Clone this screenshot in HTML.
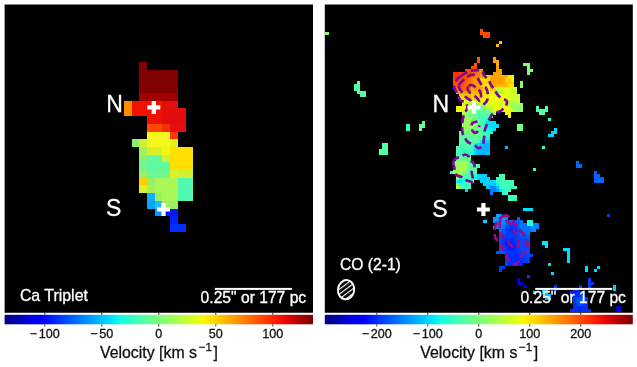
<!DOCTYPE html>
<html lang="en">
<head>
<meta charset="utf-8">
<title>Velocity maps: Ca Triplet and CO (2-1)</title>
<style>
html,body{margin:0;padding:0;background:#fff;}
body{width:637px;height:367px;overflow:hidden;font-family:"Liberation Sans",Arial,Helvetica,sans-serif;}
svg{display:block;}
text{font-family:"Liberation Sans",Arial,Helvetica,sans-serif;}
.w{fill:#fff;}
.lab{font-size:23px;fill:#fff;stroke:#fff;stroke-width:0.3px;}
.ann{font-size:15.9px;fill:#fff;stroke:#fff;stroke-width:0.3px;}
.sc{font-size:15.65px;}
.tk{font-size:12.6px;fill:#111;stroke:#111;stroke-width:0.3px;}
.ax{font-size:15.9px;fill:#111;stroke:#111;stroke-width:0.3px;}
.sup{font-size:11.6px;}
</style>
</head>
<body>
<svg width="637" height="367" viewBox="0 0 637 367">
<defs>
<linearGradient id="jet" x1="0" y1="0" x2="1" y2="0"><stop offset="0" stop-color="#000080"/><stop offset="0.025" stop-color="#00009c"/><stop offset="0.05" stop-color="#0000b9"/><stop offset="0.075" stop-color="#0000d6"/><stop offset="0.1" stop-color="#0000f3"/><stop offset="0.125" stop-color="#0000ff"/><stop offset="0.15" stop-color="#0019ff"/><stop offset="0.175" stop-color="#0033ff"/><stop offset="0.2" stop-color="#004dff"/><stop offset="0.225" stop-color="#0066ff"/><stop offset="0.25" stop-color="#0080ff"/><stop offset="0.275" stop-color="#0099ff"/><stop offset="0.3" stop-color="#00b2ff"/><stop offset="0.325" stop-color="#00ccff"/><stop offset="0.35" stop-color="#00e5f7"/><stop offset="0.375" stop-color="#15ffe2"/><stop offset="0.4" stop-color="#29ffce"/><stop offset="0.425" stop-color="#3effb9"/><stop offset="0.45" stop-color="#52ffa5"/><stop offset="0.475" stop-color="#67ff90"/><stop offset="0.5" stop-color="#7bff7b"/><stop offset="0.525" stop-color="#90ff67"/><stop offset="0.55" stop-color="#a5ff52"/><stop offset="0.575" stop-color="#b9ff3e"/><stop offset="0.6" stop-color="#ceff29"/><stop offset="0.625" stop-color="#e2ff15"/><stop offset="0.65" stop-color="#f7f600"/><stop offset="0.675" stop-color="#ffde00"/><stop offset="0.7" stop-color="#ffc600"/><stop offset="0.725" stop-color="#ffaf00"/><stop offset="0.75" stop-color="#ff9700"/><stop offset="0.775" stop-color="#ff8000"/><stop offset="0.8" stop-color="#ff6800"/><stop offset="0.825" stop-color="#ff5000"/><stop offset="0.85" stop-color="#ff3900"/><stop offset="0.875" stop-color="#ff2100"/><stop offset="0.9" stop-color="#f30900"/><stop offset="0.925" stop-color="#d60000"/><stop offset="0.95" stop-color="#b90000"/><stop offset="0.975" stop-color="#9c0000"/><stop offset="1" stop-color="#800000"/></linearGradient>
<pattern id="hatch" width="3.9" height="3.9" patternUnits="userSpaceOnUse" patternTransform="rotate(-45)"><rect x="0" y="0" width="3.9" height="1.15" fill="#fff"/></pattern>
<clipPath id="cr"><rect x="324.8" y="4.5" width="308" height="308.25"/></clipPath>
</defs>
<rect width="637" height="367" fill="#fff"/>
<!-- left panel -->
<rect x="4.6" y="4.5" width="308.4" height="308.25" fill="#000"/>
<g shape-rendering="crispEdges">
<rect x="139.25" y="62.25" width="7.75" height="7.75" fill="#800000"/>
<rect x="139.25" y="69.95" width="38.55" height="23.15" fill="#800000"/>
<rect x="139.25" y="93.05" width="38.55" height="7.75" fill="#a20000"/>
<rect x="123.85" y="100.75" width="7.75" height="15.45" fill="#ff8c00"/>
<rect x="131.55" y="100.75" width="30.85" height="7.75" fill="#f01200"/>
<rect x="162.35" y="100.75" width="7.75" height="7.75" fill="#e80c00"/>
<rect x="170.05" y="100.75" width="7.75" height="7.75" fill="#e01010"/>
<rect x="131.55" y="108.45" width="15.45" height="7.75" fill="#f01200"/>
<rect x="146.95" y="108.45" width="15.45" height="7.75" fill="#ee1000"/>
<rect x="162.35" y="108.45" width="23.15" height="7.75" fill="#e20c0c"/>
<rect x="146.95" y="116.15" width="15.45" height="7.75" fill="#ee1000"/>
<rect x="162.35" y="116.15" width="23.15" height="7.75" fill="#e20c0c"/>
<rect x="146.95" y="123.85" width="15.45" height="7.75" fill="#ff4800"/>
<rect x="162.35" y="123.85" width="7.75" height="7.75" fill="#f23000"/>
<rect x="170.05" y="123.85" width="15.45" height="7.75" fill="#e41010"/>
<rect x="146.95" y="131.55" width="23.15" height="7.75" fill="#f4f81c"/>
<rect x="170.05" y="131.55" width="7.75" height="7.75" fill="#ff3800"/>
<rect x="131.55" y="139.25" width="7.75" height="7.75" fill="#88f070"/>
<rect x="139.25" y="139.25" width="7.75" height="7.75" fill="#d0f030"/>
<rect x="146.95" y="139.25" width="23.15" height="7.75" fill="#f4f81c"/>
<rect x="170.05" y="139.25" width="7.75" height="7.75" fill="#e8f018"/>
<rect x="139.25" y="146.95" width="7.75" height="7.75" fill="#a0f060"/>
<rect x="146.95" y="146.95" width="15.45" height="7.75" fill="#d8f028"/>
<rect x="162.35" y="146.95" width="7.75" height="7.75" fill="#f0f818"/>
<rect x="170.05" y="146.95" width="23.15" height="7.75" fill="#ffe000"/>
<rect x="139.25" y="154.65" width="7.75" height="7.75" fill="#90f070"/>
<rect x="146.95" y="154.65" width="15.45" height="7.75" fill="#60f8a0"/>
<rect x="162.35" y="154.65" width="7.75" height="7.75" fill="#d0f030"/>
<rect x="170.05" y="154.65" width="23.15" height="7.75" fill="#ffe000"/>
<rect x="139.25" y="162.35" width="7.75" height="7.75" fill="#68f898"/>
<rect x="146.95" y="162.35" width="23.15" height="7.75" fill="#60f8a0"/>
<rect x="170.05" y="162.35" width="23.15" height="7.75" fill="#ffe000"/>
<rect x="139.25" y="170.05" width="7.75" height="7.75" fill="#98f068"/>
<rect x="146.95" y="170.05" width="7.75" height="7.75" fill="#68f898"/>
<rect x="154.65" y="170.05" width="15.45" height="7.75" fill="#70f890"/>
<rect x="170.05" y="170.05" width="7.75" height="7.75" fill="#e0f020"/>
<rect x="177.75" y="170.05" width="15.45" height="7.75" fill="#d0f030"/>
<rect x="139.25" y="177.75" width="7.75" height="7.75" fill="#ffd000"/>
<rect x="146.95" y="177.75" width="7.75" height="7.75" fill="#98f068"/>
<rect x="154.65" y="177.75" width="23.15" height="7.75" fill="#a8f858"/>
<rect x="177.75" y="177.75" width="15.45" height="7.75" fill="#50f8b0"/>
<rect x="139.25" y="185.45" width="7.75" height="7.75" fill="#d8f028"/>
<rect x="146.95" y="185.45" width="7.75" height="7.75" fill="#a8f058"/>
<rect x="154.65" y="185.45" width="23.15" height="7.75" fill="#a8f858"/>
<rect x="177.75" y="185.45" width="15.45" height="7.75" fill="#50f8b0"/>
<rect x="146.95" y="193.15" width="7.75" height="7.75" fill="#10b0ff"/>
<rect x="154.65" y="193.15" width="7.75" height="7.75" fill="#98f068"/>
<rect x="162.35" y="193.15" width="15.45" height="7.75" fill="#a8f858"/>
<rect x="177.75" y="193.15" width="15.45" height="7.75" fill="#50f8b0"/>
<rect x="146.95" y="200.85" width="7.75" height="7.75" fill="#00a8ff"/>
<rect x="154.65" y="200.85" width="7.75" height="7.75" fill="#20c0ff"/>
<rect x="162.35" y="200.85" width="7.75" height="7.75" fill="#a0f060"/>
<rect x="170.05" y="200.85" width="7.75" height="7.75" fill="#98f068"/>
<rect x="154.65" y="208.55" width="7.75" height="7.75" fill="#0098ff"/>
<rect x="162.35" y="208.55" width="15.45" height="7.75" fill="#0018f4"/>
<rect x="170.05" y="216.25" width="7.75" height="7.75" fill="#0020ff"/>
<rect x="170.05" y="223.95" width="15.45" height="7.75" fill="#0030ff"/>
</g>
<path d="M151.7 100.9h4.2v4.4h4.4v4.2h-4.4v4.4h-4.2v-4.4h-4.4v-4.2h4.4z" fill="#fff"/><path d="M161.4 203h4.2v4.4h4.4v4.2h-4.4v4.4h-4.2v-4.4h-4.4v-4.2h4.4z" fill="#fff"/>
<text x="106.2" y="111.7" class="lab">N</text>
<text x="106.0" y="216.3" class="lab">S</text>
<text x="19.9" y="301.2" class="ann">Ca Triplet</text>
<rect x="214.9" y="287.9" width="77.1" height="2" fill="#fff"/>
<text x="200.6" y="303.1" class="ann sc">0.25" or 177 pc</text>
<!-- right panel -->
<rect x="324.8" y="4.5" width="308" height="308.25" fill="#000"/>
<g shape-rendering="crispEdges" clip-path="url(#cr)">
<rect x="480.3" y="28.94" width="3.13" height="3.13" fill="#ff4a00"/>
<rect x="324.8" y="32.02" width="4.63" height="3.13" fill="#89ff6e"/>
<rect x="480.3" y="32.02" width="9.29" height="3.13" fill="#ff4a00"/>
<rect x="483.38" y="35.1" width="6.21" height="3.13" fill="#ff4a00"/>
<rect x="498.78" y="41.26" width="3.13" height="3.13" fill="#ffc000"/>
<rect x="495.7" y="44.34" width="3.13" height="3.13" fill="#ffc000"/>
<rect x="477.22" y="56.66" width="3.13" height="3.13" fill="#ff5700"/>
<rect x="492.62" y="56.66" width="3.13" height="3.13" fill="#ffa200"/>
<rect x="477.22" y="59.74" width="3.13" height="3.13" fill="#ff5700"/>
<rect x="492.62" y="59.74" width="6.21" height="3.13" fill="#ffa200"/>
<rect x="474.14" y="62.82" width="3.13" height="3.13" fill="#ff5700"/>
<rect x="495.7" y="62.82" width="3.13" height="3.13" fill="#ffaf00"/>
<rect x="523.42" y="62.82" width="6.21" height="3.13" fill="#7bff7b"/>
<rect x="471.06" y="65.9" width="6.21" height="3.13" fill="#ff4a00"/>
<rect x="495.7" y="65.9" width="3.13" height="3.13" fill="#ffa200"/>
<rect x="526.5" y="65.9" width="3.13" height="3.13" fill="#7bff7b"/>
<rect x="464.9" y="68.98" width="9.29" height="3.13" fill="#ff4a00"/>
<rect x="474.14" y="68.98" width="3.13" height="3.13" fill="#ff6400"/>
<rect x="477.22" y="68.98" width="3.13" height="3.13" fill="#ff7d00"/>
<rect x="480.3" y="68.98" width="3.13" height="3.13" fill="#ff9600"/>
<rect x="495.7" y="68.98" width="6.21" height="3.13" fill="#ffa200"/>
<rect x="526.5" y="68.98" width="6.21" height="3.13" fill="#7bff7b"/>
<rect x="452.58" y="72.06" width="6.21" height="3.13" fill="#ff3100"/>
<rect x="458.74" y="72.06" width="9.29" height="3.13" fill="#ff3e00"/>
<rect x="467.98" y="72.06" width="3.13" height="3.13" fill="#ff4a00"/>
<rect x="471.06" y="72.06" width="6.21" height="3.13" fill="#ff6400"/>
<rect x="477.22" y="72.06" width="3.13" height="3.13" fill="#ff7d00"/>
<rect x="480.3" y="72.06" width="3.13" height="3.13" fill="#ff9600"/>
<rect x="492.62" y="72.06" width="9.29" height="3.13" fill="#ffa200"/>
<rect x="526.5" y="72.06" width="3.13" height="3.13" fill="#7bff7b"/>
<rect x="452.58" y="75.14" width="6.21" height="3.13" fill="#ff3100"/>
<rect x="458.74" y="75.14" width="9.29" height="3.13" fill="#ff4a00"/>
<rect x="467.98" y="75.14" width="3.13" height="3.13" fill="#ff5700"/>
<rect x="471.06" y="75.14" width="3.13" height="3.13" fill="#ff7000"/>
<rect x="474.14" y="75.14" width="3.13" height="3.13" fill="#ff7d00"/>
<rect x="477.22" y="75.14" width="3.13" height="3.13" fill="#ff8900"/>
<rect x="480.3" y="75.14" width="3.13" height="3.13" fill="#ffa200"/>
<rect x="483.38" y="75.14" width="6.21" height="3.13" fill="#ffc800"/>
<rect x="489.54" y="75.14" width="12.37" height="3.13" fill="#ffa200"/>
<rect x="501.86" y="75.14" width="6.21" height="3.13" fill="#ffaf00"/>
<rect x="508.02" y="75.14" width="3.13" height="3.13" fill="#feed00"/>
<rect x="511.1" y="75.14" width="3.13" height="3.13" fill="#c8ff2f"/>
<rect x="452.58" y="78.22" width="3.13" height="3.13" fill="#ff3e00"/>
<rect x="455.66" y="78.22" width="9.29" height="3.13" fill="#ff4a00"/>
<rect x="464.9" y="78.22" width="3.13" height="3.13" fill="#ff5700"/>
<rect x="467.98" y="78.22" width="3.13" height="3.13" fill="#ff7000"/>
<rect x="471.06" y="78.22" width="3.13" height="3.13" fill="#ff8900"/>
<rect x="474.14" y="78.22" width="6.21" height="3.13" fill="#ff9600"/>
<rect x="480.3" y="78.22" width="3.13" height="3.13" fill="#ffd400"/>
<rect x="483.38" y="78.22" width="3.13" height="3.13" fill="#ffe100"/>
<rect x="486.46" y="78.22" width="3.13" height="3.13" fill="#ffd400"/>
<rect x="489.54" y="78.22" width="15.45" height="3.13" fill="#ffa200"/>
<rect x="504.94" y="78.22" width="6.21" height="3.13" fill="#ffd400"/>
<rect x="511.1" y="78.22" width="3.13" height="3.13" fill="#f3fa04"/>
<rect x="357.1" y="81.3" width="3.13" height="3.13" fill="#53ffa4"/>
<rect x="452.58" y="81.3" width="12.37" height="3.13" fill="#ff4a00"/>
<rect x="464.9" y="81.3" width="3.13" height="3.13" fill="#ff6400"/>
<rect x="467.98" y="81.3" width="3.13" height="3.13" fill="#ff7000"/>
<rect x="471.06" y="81.3" width="3.13" height="3.13" fill="#ff8900"/>
<rect x="474.14" y="81.3" width="3.13" height="3.13" fill="#ff9600"/>
<rect x="477.22" y="81.3" width="3.13" height="3.13" fill="#ffa200"/>
<rect x="480.3" y="81.3" width="3.13" height="3.13" fill="#ffc800"/>
<rect x="483.38" y="81.3" width="3.13" height="3.13" fill="#ffd400"/>
<rect x="486.46" y="81.3" width="3.13" height="3.13" fill="#ffc800"/>
<rect x="489.54" y="81.3" width="12.37" height="3.13" fill="#ffa200"/>
<rect x="501.86" y="81.3" width="3.13" height="3.13" fill="#ffaf00"/>
<rect x="504.94" y="81.3" width="6.21" height="3.13" fill="#ffc800"/>
<rect x="511.1" y="81.3" width="3.13" height="3.13" fill="#ffd400"/>
<rect x="520.34" y="81.3" width="3.13" height="3.13" fill="#89ff6e"/>
<rect x="354.02" y="84.38" width="6.21" height="3.13" fill="#53ffa4"/>
<rect x="452.58" y="84.38" width="3.13" height="3.13" fill="#ff5700"/>
<rect x="455.66" y="84.38" width="6.21" height="3.13" fill="#ff4a00"/>
<rect x="461.82" y="84.38" width="3.13" height="3.13" fill="#ff5700"/>
<rect x="464.9" y="84.38" width="6.21" height="3.13" fill="#ff6400"/>
<rect x="471.06" y="84.38" width="3.13" height="3.13" fill="#ff8900"/>
<rect x="474.14" y="84.38" width="3.13" height="3.13" fill="#ff9600"/>
<rect x="477.22" y="84.38" width="3.13" height="3.13" fill="#ffa200"/>
<rect x="480.3" y="84.38" width="3.13" height="3.13" fill="#ffbb00"/>
<rect x="483.38" y="84.38" width="3.13" height="3.13" fill="#ffe100"/>
<rect x="486.46" y="84.38" width="3.13" height="3.13" fill="#feed00"/>
<rect x="489.54" y="84.38" width="6.21" height="3.13" fill="#ffa200"/>
<rect x="495.7" y="84.38" width="12.37" height="3.13" fill="#ffbb00"/>
<rect x="508.02" y="84.38" width="6.21" height="3.13" fill="#ffe100"/>
<rect x="520.34" y="84.38" width="3.13" height="3.13" fill="#89ff6e"/>
<rect x="354.02" y="87.46" width="6.21" height="3.13" fill="#53ffa4"/>
<rect x="455.66" y="87.46" width="12.37" height="3.13" fill="#ff6400"/>
<rect x="467.98" y="87.46" width="3.13" height="3.13" fill="#ff7000"/>
<rect x="471.06" y="87.46" width="3.13" height="3.13" fill="#ffa200"/>
<rect x="474.14" y="87.46" width="6.21" height="3.13" fill="#ff9600"/>
<rect x="480.3" y="87.46" width="3.13" height="3.13" fill="#ffa200"/>
<rect x="483.38" y="87.46" width="3.13" height="3.13" fill="#ffe100"/>
<rect x="486.46" y="87.46" width="3.13" height="3.13" fill="#feed00"/>
<rect x="489.54" y="87.46" width="3.13" height="3.13" fill="#ffc800"/>
<rect x="492.62" y="87.46" width="3.13" height="3.13" fill="#ffd400"/>
<rect x="495.7" y="87.46" width="3.13" height="3.13" fill="#b2ff45"/>
<rect x="498.78" y="87.46" width="3.13" height="3.13" fill="#ddff19"/>
<rect x="501.86" y="87.46" width="3.13" height="3.13" fill="#d3ff24"/>
<rect x="504.94" y="87.46" width="3.13" height="3.13" fill="#f3fa04"/>
<rect x="508.02" y="87.46" width="9.29" height="3.13" fill="#d3ff24"/>
<rect x="357.1" y="90.54" width="9.29" height="3.13" fill="#53ffa4"/>
<rect x="455.66" y="90.54" width="12.37" height="3.13" fill="#ff9600"/>
<rect x="467.98" y="90.54" width="3.13" height="3.13" fill="#ffaf00"/>
<rect x="471.06" y="90.54" width="3.13" height="3.13" fill="#ffbb00"/>
<rect x="474.14" y="90.54" width="3.13" height="3.13" fill="#ffaf00"/>
<rect x="477.22" y="90.54" width="3.13" height="3.13" fill="#ffa200"/>
<rect x="480.3" y="90.54" width="3.13" height="3.13" fill="#ffbb00"/>
<rect x="483.38" y="90.54" width="9.29" height="3.13" fill="#feed00"/>
<rect x="492.62" y="90.54" width="3.13" height="3.13" fill="#bdff3a"/>
<rect x="495.7" y="90.54" width="3.13" height="3.13" fill="#70ff86"/>
<rect x="498.78" y="90.54" width="3.13" height="3.13" fill="#9cff5b"/>
<rect x="501.86" y="90.54" width="6.21" height="3.13" fill="#ddff19"/>
<rect x="508.02" y="90.54" width="6.21" height="3.13" fill="#d3ff24"/>
<rect x="514.18" y="90.54" width="3.13" height="3.13" fill="#c8ff2f"/>
<rect x="360.18" y="93.62" width="6.21" height="3.13" fill="#53ffa4"/>
<rect x="458.74" y="93.62" width="6.21" height="3.13" fill="#ffc800"/>
<rect x="464.9" y="93.62" width="6.21" height="3.13" fill="#ffbb00"/>
<rect x="471.06" y="93.62" width="6.21" height="3.13" fill="#ffc800"/>
<rect x="477.22" y="93.62" width="3.13" height="3.13" fill="#ffd400"/>
<rect x="480.3" y="93.62" width="9.29" height="3.13" fill="#feed00"/>
<rect x="489.54" y="93.62" width="6.21" height="3.13" fill="#f3fa04"/>
<rect x="495.7" y="93.62" width="3.13" height="3.13" fill="#bdff3a"/>
<rect x="498.78" y="93.62" width="3.13" height="3.13" fill="#ddff19"/>
<rect x="501.86" y="93.62" width="6.21" height="3.13" fill="#e8ff0e"/>
<rect x="508.02" y="93.62" width="3.13" height="3.13" fill="#ddff19"/>
<rect x="511.1" y="93.62" width="3.13" height="3.13" fill="#d3ff24"/>
<rect x="514.18" y="93.62" width="6.21" height="3.13" fill="#c8ff2f"/>
<rect x="458.74" y="96.7" width="3.13" height="3.13" fill="#feed00"/>
<rect x="461.82" y="96.7" width="3.13" height="3.13" fill="#ffe100"/>
<rect x="464.9" y="96.7" width="3.13" height="3.13" fill="#ffbb00"/>
<rect x="467.98" y="96.7" width="3.13" height="3.13" fill="#ffaf00"/>
<rect x="471.06" y="96.7" width="3.13" height="3.13" fill="#ffd400"/>
<rect x="474.14" y="96.7" width="3.13" height="3.13" fill="#ffbb00"/>
<rect x="477.22" y="96.7" width="3.13" height="3.13" fill="#ffe100"/>
<rect x="480.3" y="96.7" width="3.13" height="3.13" fill="#feed00"/>
<rect x="483.38" y="96.7" width="12.37" height="3.13" fill="#f3fa04"/>
<rect x="495.7" y="96.7" width="3.13" height="3.13" fill="#e8ff0e"/>
<rect x="498.78" y="96.7" width="3.13" height="3.13" fill="#f3fa04"/>
<rect x="501.86" y="96.7" width="6.21" height="3.13" fill="#e8ff0e"/>
<rect x="508.02" y="96.7" width="3.13" height="3.13" fill="#ddff19"/>
<rect x="511.1" y="96.7" width="9.29" height="3.13" fill="#c8ff2f"/>
<rect x="461.82" y="99.78" width="6.21" height="3.13" fill="#e8ff0e"/>
<rect x="467.98" y="99.78" width="3.13" height="3.13" fill="#ddff19"/>
<rect x="471.06" y="99.78" width="3.13" height="3.13" fill="#b2ff45"/>
<rect x="474.14" y="99.78" width="3.13" height="3.13" fill="#bdff3a"/>
<rect x="477.22" y="99.78" width="3.13" height="3.13" fill="#ddff19"/>
<rect x="480.3" y="99.78" width="3.13" height="3.13" fill="#feed00"/>
<rect x="483.38" y="99.78" width="3.13" height="3.13" fill="#e8ff0e"/>
<rect x="486.46" y="99.78" width="3.13" height="3.13" fill="#d3ff24"/>
<rect x="489.54" y="99.78" width="6.21" height="3.13" fill="#e8ff0e"/>
<rect x="495.7" y="99.78" width="3.13" height="3.13" fill="#f3fa04"/>
<rect x="498.78" y="99.78" width="3.13" height="3.13" fill="#e8ff0e"/>
<rect x="501.86" y="99.78" width="6.21" height="3.13" fill="#ddff19"/>
<rect x="508.02" y="99.78" width="3.13" height="3.13" fill="#bdff3a"/>
<rect x="511.1" y="99.78" width="3.13" height="3.13" fill="#a7ff50"/>
<rect x="514.18" y="99.78" width="6.21" height="3.13" fill="#bdff3a"/>
<rect x="461.82" y="102.86" width="3.13" height="3.13" fill="#ddff19"/>
<rect x="464.9" y="102.86" width="6.21" height="3.13" fill="#b2ff45"/>
<rect x="471.06" y="102.86" width="3.13" height="3.13" fill="#66ff91"/>
<rect x="474.14" y="102.86" width="3.13" height="3.13" fill="#86ff70"/>
<rect x="477.22" y="102.86" width="3.13" height="3.13" fill="#a7ff50"/>
<rect x="480.3" y="102.86" width="3.13" height="3.13" fill="#b2ff45"/>
<rect x="483.38" y="102.86" width="3.13" height="3.13" fill="#c8ff2f"/>
<rect x="486.46" y="102.86" width="6.21" height="3.13" fill="#d3ff24"/>
<rect x="492.62" y="102.86" width="6.21" height="3.13" fill="#e8ff0e"/>
<rect x="498.78" y="102.86" width="9.29" height="3.13" fill="#ddff19"/>
<rect x="508.02" y="102.86" width="3.13" height="3.13" fill="#b2ff45"/>
<rect x="511.1" y="102.86" width="3.13" height="3.13" fill="#91ff66"/>
<rect x="514.18" y="102.86" width="3.13" height="3.13" fill="#9cff5b"/>
<rect x="517.26" y="102.86" width="3.13" height="3.13" fill="#b2ff45"/>
<rect x="520.34" y="102.86" width="3.13" height="3.13" fill="#9cff5b"/>
<rect x="455.66" y="105.94" width="6.21" height="3.13" fill="#f3fa04"/>
<rect x="461.82" y="105.94" width="3.13" height="3.13" fill="#e8ff0e"/>
<rect x="464.9" y="105.94" width="3.13" height="3.13" fill="#c8ff2f"/>
<rect x="467.98" y="105.94" width="3.13" height="3.13" fill="#a7ff50"/>
<rect x="471.06" y="105.94" width="3.13" height="3.13" fill="#70ff86"/>
<rect x="474.14" y="105.94" width="9.29" height="3.13" fill="#66ff91"/>
<rect x="483.38" y="105.94" width="3.13" height="3.13" fill="#7bff7b"/>
<rect x="486.46" y="105.94" width="6.21" height="3.13" fill="#c8ff2f"/>
<rect x="492.62" y="105.94" width="9.29" height="3.13" fill="#e8ff0e"/>
<rect x="501.86" y="105.94" width="3.13" height="3.13" fill="#ddff19"/>
<rect x="504.94" y="105.94" width="3.13" height="3.13" fill="#e8ff0e"/>
<rect x="508.02" y="105.94" width="3.13" height="3.13" fill="#ddff19"/>
<rect x="511.1" y="105.94" width="3.13" height="3.13" fill="#9cff5b"/>
<rect x="514.18" y="105.94" width="9.29" height="3.13" fill="#91ff66"/>
<rect x="535.74" y="105.94" width="3.13" height="3.13" fill="#53ffa4"/>
<rect x="544.98" y="105.94" width="3.13" height="3.13" fill="#53ffa4"/>
<rect x="455.66" y="109.02" width="6.21" height="3.13" fill="#f3fa04"/>
<rect x="461.82" y="109.02" width="6.21" height="3.13" fill="#d3ff24"/>
<rect x="467.98" y="109.02" width="3.13" height="3.13" fill="#9cff5b"/>
<rect x="471.06" y="109.02" width="3.13" height="3.13" fill="#7bff7b"/>
<rect x="474.14" y="109.02" width="3.13" height="3.13" fill="#66ff91"/>
<rect x="477.22" y="109.02" width="3.13" height="3.13" fill="#5bff9c"/>
<rect x="480.3" y="109.02" width="6.21" height="3.13" fill="#66ff91"/>
<rect x="486.46" y="109.02" width="3.13" height="3.13" fill="#7bff7b"/>
<rect x="489.54" y="109.02" width="3.13" height="3.13" fill="#a7ff50"/>
<rect x="492.62" y="109.02" width="3.13" height="3.13" fill="#ddff19"/>
<rect x="495.7" y="109.02" width="12.37" height="3.13" fill="#e8ff0e"/>
<rect x="508.02" y="109.02" width="3.13" height="3.13" fill="#ddff19"/>
<rect x="511.1" y="109.02" width="3.13" height="3.13" fill="#d3ff24"/>
<rect x="514.18" y="109.02" width="9.29" height="3.13" fill="#91ff66"/>
<rect x="535.74" y="109.02" width="12.37" height="3.13" fill="#53ffa4"/>
<rect x="461.82" y="112.1" width="3.13" height="3.13" fill="#bdff3a"/>
<rect x="464.9" y="112.1" width="3.13" height="3.13" fill="#9cff5b"/>
<rect x="467.98" y="112.1" width="3.13" height="3.13" fill="#70ff86"/>
<rect x="471.06" y="112.1" width="3.13" height="3.13" fill="#7bff7b"/>
<rect x="474.14" y="112.1" width="6.21" height="3.13" fill="#5bff9c"/>
<rect x="480.3" y="112.1" width="3.13" height="3.13" fill="#50ffa7"/>
<rect x="483.38" y="112.1" width="6.21" height="3.13" fill="#5bff9c"/>
<rect x="489.54" y="112.1" width="3.13" height="3.13" fill="#7bff7b"/>
<rect x="492.62" y="112.1" width="3.13" height="3.13" fill="#a7ff50"/>
<rect x="504.94" y="112.1" width="6.21" height="3.13" fill="#f3fa04"/>
<rect x="538.82" y="112.1" width="6.21" height="3.13" fill="#53ffa4"/>
<rect x="461.82" y="115.18" width="3.13" height="3.13" fill="#a7ff50"/>
<rect x="464.9" y="115.18" width="3.13" height="3.13" fill="#86ff70"/>
<rect x="467.98" y="115.18" width="6.21" height="3.13" fill="#7bff7b"/>
<rect x="474.14" y="115.18" width="3.13" height="3.13" fill="#66ff91"/>
<rect x="477.22" y="115.18" width="3.13" height="3.13" fill="#50ffa7"/>
<rect x="480.3" y="115.18" width="3.13" height="3.13" fill="#45ffb2"/>
<rect x="483.38" y="115.18" width="6.21" height="3.13" fill="#50ffa7"/>
<rect x="489.54" y="115.18" width="3.13" height="3.13" fill="#45ffb2"/>
<rect x="508.02" y="115.18" width="3.13" height="3.13" fill="#f3fa04"/>
<rect x="461.82" y="118.26" width="9.29" height="3.13" fill="#9cff5b"/>
<rect x="471.06" y="118.26" width="3.13" height="3.13" fill="#91ff66"/>
<rect x="474.14" y="118.26" width="3.13" height="3.13" fill="#70ff86"/>
<rect x="477.22" y="118.26" width="3.13" height="3.13" fill="#50ffa7"/>
<rect x="480.3" y="118.26" width="6.21" height="3.13" fill="#45ffb2"/>
<rect x="486.46" y="118.26" width="3.13" height="3.13" fill="#19ffdd"/>
<rect x="548.06" y="118.26" width="3.13" height="3.13" fill="#30ffc6"/>
<rect x="421.78" y="121.34" width="3.13" height="3.13" fill="#67ff90"/>
<rect x="461.82" y="121.34" width="12.37" height="3.13" fill="#9cff5b"/>
<rect x="474.14" y="121.34" width="3.13" height="3.13" fill="#86ff70"/>
<rect x="477.22" y="121.34" width="3.13" height="3.13" fill="#5bff9c"/>
<rect x="480.3" y="121.34" width="3.13" height="3.13" fill="#45ffb2"/>
<rect x="483.38" y="121.34" width="3.13" height="3.13" fill="#2fffc8"/>
<rect x="486.46" y="121.34" width="9.29" height="3.13" fill="#00dcfe"/>
<rect x="406.38" y="124.42" width="3.13" height="3.13" fill="#37ffbf"/>
<rect x="418.7" y="124.42" width="6.21" height="3.13" fill="#67ff90"/>
<rect x="461.82" y="124.42" width="12.37" height="3.13" fill="#9cff5b"/>
<rect x="474.14" y="124.42" width="3.13" height="3.13" fill="#86ff70"/>
<rect x="477.22" y="124.42" width="3.13" height="3.13" fill="#66ff91"/>
<rect x="480.3" y="124.42" width="3.13" height="3.13" fill="#50ffa7"/>
<rect x="483.38" y="124.42" width="3.13" height="3.13" fill="#24ffd3"/>
<rect x="486.46" y="124.42" width="3.13" height="3.13" fill="#04eaf3"/>
<rect x="489.54" y="124.42" width="9.29" height="3.13" fill="#00dcfe"/>
<rect x="517.26" y="124.42" width="6.21" height="3.13" fill="#6eff89"/>
<rect x="406.38" y="127.5" width="3.13" height="3.13" fill="#37ffbf"/>
<rect x="418.7" y="127.5" width="3.13" height="3.13" fill="#67ff90"/>
<rect x="461.82" y="127.5" width="9.29" height="3.13" fill="#91ff66"/>
<rect x="471.06" y="127.5" width="3.13" height="3.13" fill="#7bff7b"/>
<rect x="474.14" y="127.5" width="3.13" height="3.13" fill="#70ff86"/>
<rect x="477.22" y="127.5" width="3.13" height="3.13" fill="#66ff91"/>
<rect x="480.3" y="127.5" width="3.13" height="3.13" fill="#50ffa7"/>
<rect x="483.38" y="127.5" width="3.13" height="3.13" fill="#2fffc8"/>
<rect x="486.46" y="127.5" width="3.13" height="3.13" fill="#0ef7e8"/>
<rect x="489.54" y="127.5" width="3.13" height="3.13" fill="#04eaf3"/>
<rect x="492.62" y="127.5" width="3.13" height="3.13" fill="#00dcfe"/>
<rect x="517.26" y="127.5" width="6.21" height="3.13" fill="#6eff89"/>
<rect x="554.22" y="127.5" width="3.13" height="3.13" fill="#00d6ff"/>
<rect x="458.74" y="130.58" width="12.37" height="3.13" fill="#70ff86"/>
<rect x="471.06" y="130.58" width="6.21" height="3.13" fill="#66ff91"/>
<rect x="477.22" y="130.58" width="6.21" height="3.13" fill="#5bff9c"/>
<rect x="483.38" y="130.58" width="3.13" height="3.13" fill="#45ffb2"/>
<rect x="486.46" y="130.58" width="3.13" height="3.13" fill="#24ffd3"/>
<rect x="489.54" y="130.58" width="3.13" height="3.13" fill="#0ef7e8"/>
<rect x="551.14" y="130.58" width="6.21" height="3.13" fill="#00d6ff"/>
<rect x="458.74" y="133.66" width="9.29" height="3.13" fill="#5bff9c"/>
<rect x="467.98" y="133.66" width="9.29" height="3.13" fill="#66ff91"/>
<rect x="477.22" y="133.66" width="6.21" height="3.13" fill="#5bff9c"/>
<rect x="483.38" y="133.66" width="3.13" height="3.13" fill="#45ffb2"/>
<rect x="486.46" y="133.66" width="3.13" height="3.13" fill="#2fffc8"/>
<rect x="548.06" y="133.66" width="6.21" height="3.13" fill="#00d6ff"/>
<rect x="458.74" y="136.74" width="9.29" height="3.13" fill="#50ffa7"/>
<rect x="467.98" y="136.74" width="12.37" height="3.13" fill="#5bff9c"/>
<rect x="480.3" y="136.74" width="3.13" height="3.13" fill="#45ffb2"/>
<rect x="483.38" y="136.74" width="3.13" height="3.13" fill="#24ffd3"/>
<rect x="486.46" y="136.74" width="3.13" height="3.13" fill="#0ef7e8"/>
<rect x="458.74" y="139.82" width="12.37" height="3.13" fill="#50ffa7"/>
<rect x="471.06" y="139.82" width="3.13" height="3.13" fill="#5bff9c"/>
<rect x="474.14" y="139.82" width="3.13" height="3.13" fill="#50ffa7"/>
<rect x="477.22" y="139.82" width="3.13" height="3.13" fill="#3affbd"/>
<rect x="480.3" y="139.82" width="3.13" height="3.13" fill="#04eaf3"/>
<rect x="483.38" y="139.82" width="6.21" height="3.13" fill="#00cfff"/>
<rect x="381.74" y="142.9" width="6.21" height="3.13" fill="#53ffa4"/>
<rect x="458.74" y="142.9" width="12.37" height="3.13" fill="#50ffa7"/>
<rect x="471.06" y="142.9" width="3.13" height="3.13" fill="#45ffb2"/>
<rect x="474.14" y="142.9" width="3.13" height="3.13" fill="#24ffd3"/>
<rect x="477.22" y="142.9" width="3.13" height="3.13" fill="#00dcfe"/>
<rect x="480.3" y="142.9" width="3.13" height="3.13" fill="#00c1ff"/>
<rect x="483.38" y="142.9" width="6.21" height="3.13" fill="#00b4ff"/>
<rect x="381.74" y="145.98" width="6.21" height="3.13" fill="#53ffa4"/>
<rect x="455.66" y="145.98" width="3.13" height="3.13" fill="#50ffa7"/>
<rect x="458.74" y="145.98" width="12.37" height="3.13" fill="#45ffb2"/>
<rect x="471.06" y="145.98" width="3.13" height="3.13" fill="#24ffd3"/>
<rect x="474.14" y="145.98" width="3.13" height="3.13" fill="#04eaf3"/>
<rect x="477.22" y="145.98" width="3.13" height="3.13" fill="#00c1ff"/>
<rect x="480.3" y="145.98" width="9.29" height="3.13" fill="#00b4ff"/>
<rect x="504.94" y="145.98" width="3.13" height="3.13" fill="#00b4ff"/>
<rect x="541.9" y="145.98" width="3.13" height="3.13" fill="#30ffc6"/>
<rect x="378.66" y="149.06" width="9.29" height="3.13" fill="#53ffa4"/>
<rect x="455.66" y="149.06" width="6.21" height="3.13" fill="#45ffb2"/>
<rect x="461.82" y="149.06" width="9.29" height="3.13" fill="#3affbd"/>
<rect x="471.06" y="149.06" width="3.13" height="3.13" fill="#19ffdd"/>
<rect x="474.14" y="149.06" width="3.13" height="3.13" fill="#00cfff"/>
<rect x="477.22" y="149.06" width="3.13" height="3.13" fill="#00c1ff"/>
<rect x="480.3" y="149.06" width="9.29" height="3.13" fill="#00b4ff"/>
<rect x="378.66" y="152.14" width="9.29" height="3.13" fill="#53ffa4"/>
<rect x="455.66" y="152.14" width="3.13" height="3.13" fill="#45ffb2"/>
<rect x="458.74" y="152.14" width="12.37" height="3.13" fill="#3affbd"/>
<rect x="471.06" y="152.14" width="3.13" height="3.13" fill="#19ffdd"/>
<rect x="474.14" y="152.14" width="3.13" height="3.13" fill="#00cfff"/>
<rect x="477.22" y="152.14" width="9.29" height="3.13" fill="#00b4ff"/>
<rect x="486.46" y="152.14" width="3.13" height="3.13" fill="#00c1ff"/>
<rect x="455.66" y="155.22" width="3.13" height="3.13" fill="#50ffa7"/>
<rect x="458.74" y="155.22" width="3.13" height="3.13" fill="#45ffb2"/>
<rect x="461.82" y="155.22" width="3.13" height="3.13" fill="#3affbd"/>
<rect x="464.9" y="155.22" width="6.21" height="3.13" fill="#45ffb2"/>
<rect x="455.66" y="158.3" width="12.37" height="3.13" fill="#70ff86"/>
<rect x="467.98" y="158.3" width="3.13" height="3.13" fill="#5bff9c"/>
<rect x="452.58" y="161.38" width="3.13" height="3.13" fill="#86ff70"/>
<rect x="455.66" y="161.38" width="3.13" height="3.13" fill="#91ff66"/>
<rect x="458.74" y="161.38" width="3.13" height="3.13" fill="#9cff5b"/>
<rect x="461.82" y="161.38" width="3.13" height="3.13" fill="#a7ff50"/>
<rect x="464.9" y="161.38" width="3.13" height="3.13" fill="#9cff5b"/>
<rect x="467.98" y="161.38" width="3.13" height="3.13" fill="#70ff86"/>
<rect x="471.06" y="161.38" width="3.13" height="3.13" fill="#5bff9c"/>
<rect x="575.78" y="161.38" width="3.13" height="3.13" fill="#0068ff"/>
<rect x="452.58" y="164.46" width="3.13" height="3.13" fill="#91ff66"/>
<rect x="455.66" y="164.46" width="3.13" height="3.13" fill="#9cff5b"/>
<rect x="458.74" y="164.46" width="6.21" height="3.13" fill="#a7ff50"/>
<rect x="464.9" y="164.46" width="3.13" height="3.13" fill="#9cff5b"/>
<rect x="467.98" y="164.46" width="3.13" height="3.13" fill="#66ff91"/>
<rect x="471.06" y="164.46" width="6.21" height="3.13" fill="#50ffa7"/>
<rect x="477.22" y="164.46" width="3.13" height="3.13" fill="#45ffb2"/>
<rect x="575.78" y="164.46" width="6.21" height="3.13" fill="#0068ff"/>
<rect x="452.58" y="167.54" width="9.29" height="3.13" fill="#9cff5b"/>
<rect x="461.82" y="167.54" width="3.13" height="3.13" fill="#a7ff50"/>
<rect x="464.9" y="167.54" width="3.13" height="3.13" fill="#91ff66"/>
<rect x="467.98" y="167.54" width="3.13" height="3.13" fill="#5bff9c"/>
<rect x="471.06" y="167.54" width="6.21" height="3.13" fill="#50ffa7"/>
<rect x="532.66" y="167.54" width="3.13" height="3.13" fill="#30ffc6"/>
<rect x="449.5" y="170.62" width="3.13" height="3.13" fill="#2affcd"/>
<rect x="452.58" y="170.62" width="3.13" height="3.13" fill="#a7ff50"/>
<rect x="455.66" y="170.62" width="3.13" height="3.13" fill="#b2ff45"/>
<rect x="458.74" y="170.62" width="3.13" height="3.13" fill="#a7ff50"/>
<rect x="461.82" y="170.62" width="3.13" height="3.13" fill="#86ff70"/>
<rect x="464.9" y="170.62" width="3.13" height="3.13" fill="#70ff86"/>
<rect x="467.98" y="170.62" width="9.29" height="3.13" fill="#50ffa7"/>
<rect x="594.26" y="170.62" width="3.13" height="3.13" fill="#0063ff"/>
<rect x="455.66" y="173.7" width="3.13" height="3.13" fill="#b2ff45"/>
<rect x="458.74" y="173.7" width="3.13" height="3.13" fill="#a7ff50"/>
<rect x="461.82" y="173.7" width="3.13" height="3.13" fill="#5bff9c"/>
<rect x="464.9" y="173.7" width="9.29" height="3.13" fill="#45ffb2"/>
<rect x="474.14" y="173.7" width="3.13" height="3.13" fill="#24ffd3"/>
<rect x="477.22" y="173.7" width="3.13" height="3.13" fill="#00dcfe"/>
<rect x="480.3" y="173.7" width="6.21" height="3.13" fill="#00cfff"/>
<rect x="498.78" y="173.7" width="3.13" height="3.13" fill="#3affbd"/>
<rect x="501.86" y="173.7" width="3.13" height="3.13" fill="#45ffb2"/>
<rect x="594.26" y="173.7" width="6.21" height="3.13" fill="#0063ff"/>
<rect x="455.66" y="176.78" width="3.13" height="3.13" fill="#86ff70"/>
<rect x="458.74" y="176.78" width="3.13" height="3.13" fill="#19ffdd"/>
<rect x="461.82" y="176.78" width="3.13" height="3.13" fill="#24ffd3"/>
<rect x="464.9" y="176.78" width="9.29" height="3.13" fill="#3affbd"/>
<rect x="474.14" y="176.78" width="3.13" height="3.13" fill="#0ef7e8"/>
<rect x="477.22" y="176.78" width="12.37" height="3.13" fill="#00cfff"/>
<rect x="495.7" y="176.78" width="3.13" height="3.13" fill="#2fffc8"/>
<rect x="498.78" y="176.78" width="6.21" height="3.13" fill="#45ffb2"/>
<rect x="594.26" y="176.78" width="9.29" height="3.13" fill="#0063ff"/>
<rect x="455.66" y="179.86" width="3.13" height="3.13" fill="#0ef7e8"/>
<rect x="458.74" y="179.86" width="3.13" height="3.13" fill="#00dcfe"/>
<rect x="461.82" y="179.86" width="3.13" height="3.13" fill="#19ffdd"/>
<rect x="464.9" y="179.86" width="9.29" height="3.13" fill="#3affbd"/>
<rect x="480.3" y="179.86" width="12.37" height="3.13" fill="#00cfff"/>
<rect x="492.62" y="179.86" width="3.13" height="3.13" fill="#00dcfe"/>
<rect x="495.7" y="179.86" width="3.13" height="3.13" fill="#2fffc8"/>
<rect x="498.78" y="179.86" width="15.45" height="3.13" fill="#45ffb2"/>
<rect x="594.26" y="179.86" width="9.29" height="3.13" fill="#0063ff"/>
<rect x="455.66" y="182.94" width="3.13" height="3.13" fill="#86ff70"/>
<rect x="458.74" y="182.94" width="3.13" height="3.13" fill="#24ffd3"/>
<rect x="461.82" y="182.94" width="9.29" height="3.13" fill="#3affbd"/>
<rect x="483.38" y="182.94" width="9.29" height="3.13" fill="#00cfff"/>
<rect x="492.62" y="182.94" width="3.13" height="3.13" fill="#00c1ff"/>
<rect x="495.7" y="182.94" width="3.13" height="3.13" fill="#0ef7e8"/>
<rect x="498.78" y="182.94" width="12.37" height="3.13" fill="#45ffb2"/>
<rect x="511.1" y="182.94" width="3.13" height="3.13" fill="#3affbd"/>
<rect x="455.66" y="186.02" width="3.13" height="3.13" fill="#b2ff45"/>
<rect x="458.74" y="186.02" width="3.13" height="3.13" fill="#70ff86"/>
<rect x="461.82" y="186.02" width="9.29" height="3.13" fill="#3affbd"/>
<rect x="486.46" y="186.02" width="3.13" height="3.13" fill="#00c1ff"/>
<rect x="489.54" y="186.02" width="6.21" height="3.13" fill="#008bff"/>
<rect x="495.7" y="186.02" width="3.13" height="3.13" fill="#00c1ff"/>
<rect x="498.78" y="186.02" width="3.13" height="3.13" fill="#24ffd3"/>
<rect x="501.86" y="186.02" width="15.45" height="3.13" fill="#3affbd"/>
<rect x="464.9" y="189.1" width="3.13" height="3.13" fill="#00d6ff"/>
<rect x="489.54" y="189.1" width="6.21" height="3.13" fill="#007eff"/>
<rect x="495.7" y="189.1" width="3.13" height="3.13" fill="#0099ff"/>
<rect x="498.78" y="189.1" width="3.13" height="3.13" fill="#00dcfe"/>
<rect x="501.86" y="189.1" width="3.13" height="3.13" fill="#24ffd3"/>
<rect x="504.94" y="189.1" width="6.21" height="3.13" fill="#3affbd"/>
<rect x="489.54" y="192.18" width="3.13" height="3.13" fill="#007eff"/>
<rect x="501.86" y="192.18" width="3.13" height="3.13" fill="#24ffd3"/>
<rect x="504.94" y="192.18" width="3.13" height="3.13" fill="#3affbd"/>
<rect x="508.02" y="195.26" width="9.29" height="3.13" fill="#3affbd"/>
<rect x="508.02" y="198.34" width="9.29" height="3.13" fill="#3affbd"/>
<rect x="523.42" y="207.58" width="9.29" height="3.13" fill="#00defd"/>
<rect x="495.7" y="213.74" width="3.13" height="3.13" fill="#00a6ff"/>
<rect x="498.78" y="213.74" width="3.13" height="3.13" fill="#0099ff"/>
<rect x="606.58" y="213.74" width="3.13" height="3.13" fill="#003eff"/>
<rect x="492.62" y="216.82" width="12.37" height="3.13" fill="#0099ff"/>
<rect x="504.94" y="216.82" width="3.13" height="3.13" fill="#008bff"/>
<rect x="517.26" y="216.82" width="3.13" height="3.13" fill="#0063ff"/>
<rect x="483.38" y="219.9" width="3.13" height="3.13" fill="#00d6ff"/>
<rect x="492.62" y="219.9" width="3.13" height="3.13" fill="#0099ff"/>
<rect x="495.7" y="219.9" width="3.13" height="3.13" fill="#008bff"/>
<rect x="498.78" y="219.9" width="3.13" height="3.13" fill="#0099ff"/>
<rect x="501.86" y="219.9" width="3.13" height="3.13" fill="#008bff"/>
<rect x="504.94" y="219.9" width="3.13" height="3.13" fill="#007eff"/>
<rect x="508.02" y="219.9" width="3.13" height="3.13" fill="#0063ff"/>
<rect x="511.1" y="219.9" width="6.21" height="3.13" fill="#0055ff"/>
<rect x="517.26" y="219.9" width="3.13" height="3.13" fill="#0063ff"/>
<rect x="520.34" y="219.9" width="3.13" height="3.13" fill="#0070ff"/>
<rect x="526.5" y="219.9" width="6.21" height="3.13" fill="#27ffd0"/>
<rect x="495.7" y="222.98" width="6.21" height="3.13" fill="#008bff"/>
<rect x="501.86" y="222.98" width="3.13" height="3.13" fill="#007eff"/>
<rect x="504.94" y="222.98" width="3.13" height="3.13" fill="#0063ff"/>
<rect x="508.02" y="222.98" width="3.13" height="3.13" fill="#0048ff"/>
<rect x="511.1" y="222.98" width="3.13" height="3.13" fill="#003aff"/>
<rect x="514.18" y="222.98" width="3.13" height="3.13" fill="#0048ff"/>
<rect x="517.26" y="222.98" width="3.13" height="3.13" fill="#0063ff"/>
<rect x="520.34" y="222.98" width="6.21" height="3.13" fill="#0070ff"/>
<rect x="526.5" y="222.98" width="6.21" height="3.13" fill="#27ffd0"/>
<rect x="532.66" y="222.98" width="6.21" height="3.13" fill="#008bff"/>
<rect x="492.62" y="226.06" width="3.13" height="3.13" fill="#00b4ff"/>
<rect x="495.7" y="226.06" width="3.13" height="3.13" fill="#008bff"/>
<rect x="498.78" y="226.06" width="3.13" height="3.13" fill="#007eff"/>
<rect x="501.86" y="226.06" width="3.13" height="3.13" fill="#0070ff"/>
<rect x="504.94" y="226.06" width="3.13" height="3.13" fill="#0048ff"/>
<rect x="508.02" y="226.06" width="3.13" height="3.13" fill="#003aff"/>
<rect x="511.1" y="226.06" width="3.13" height="3.13" fill="#002dff"/>
<rect x="514.18" y="226.06" width="3.13" height="3.13" fill="#003aff"/>
<rect x="517.26" y="226.06" width="3.13" height="3.13" fill="#0055ff"/>
<rect x="520.34" y="226.06" width="9.29" height="3.13" fill="#0070ff"/>
<rect x="529.58" y="226.06" width="9.29" height="3.13" fill="#008bff"/>
<rect x="498.78" y="229.14" width="3.13" height="3.13" fill="#0070ff"/>
<rect x="501.86" y="229.14" width="3.13" height="3.13" fill="#0055ff"/>
<rect x="504.94" y="229.14" width="3.13" height="3.13" fill="#003aff"/>
<rect x="508.02" y="229.14" width="9.29" height="3.13" fill="#002dff"/>
<rect x="517.26" y="229.14" width="3.13" height="3.13" fill="#0048ff"/>
<rect x="520.34" y="229.14" width="9.29" height="3.13" fill="#0070ff"/>
<rect x="529.58" y="229.14" width="3.13" height="3.13" fill="#007eff"/>
<rect x="532.66" y="229.14" width="3.13" height="3.13" fill="#008bff"/>
<rect x="498.78" y="232.22" width="3.13" height="3.13" fill="#0055ff"/>
<rect x="501.86" y="232.22" width="3.13" height="3.13" fill="#0048ff"/>
<rect x="504.94" y="232.22" width="6.21" height="3.13" fill="#003aff"/>
<rect x="511.1" y="232.22" width="3.13" height="3.13" fill="#002dff"/>
<rect x="514.18" y="232.22" width="3.13" height="3.13" fill="#003aff"/>
<rect x="517.26" y="232.22" width="3.13" height="3.13" fill="#0048ff"/>
<rect x="520.34" y="232.22" width="6.21" height="3.13" fill="#0063ff"/>
<rect x="526.5" y="232.22" width="3.13" height="3.13" fill="#0070ff"/>
<rect x="498.78" y="235.3" width="3.13" height="3.13" fill="#0048ff"/>
<rect x="501.86" y="235.3" width="15.45" height="3.13" fill="#003aff"/>
<rect x="517.26" y="235.3" width="3.13" height="3.13" fill="#0048ff"/>
<rect x="520.34" y="235.3" width="6.21" height="3.13" fill="#0055ff"/>
<rect x="526.5" y="235.3" width="3.13" height="3.13" fill="#0063ff"/>
<rect x="498.78" y="238.38" width="3.13" height="3.13" fill="#0048ff"/>
<rect x="501.86" y="238.38" width="3.13" height="3.13" fill="#003aff"/>
<rect x="504.94" y="238.38" width="9.29" height="3.13" fill="#002dff"/>
<rect x="514.18" y="238.38" width="3.13" height="3.13" fill="#003aff"/>
<rect x="517.26" y="238.38" width="9.29" height="3.13" fill="#0048ff"/>
<rect x="526.5" y="238.38" width="3.13" height="3.13" fill="#0055ff"/>
<rect x="498.78" y="241.46" width="3.13" height="3.13" fill="#0048ff"/>
<rect x="501.86" y="241.46" width="3.13" height="3.13" fill="#002dff"/>
<rect x="504.94" y="241.46" width="9.29" height="3.13" fill="#001fff"/>
<rect x="514.18" y="241.46" width="3.13" height="3.13" fill="#002dff"/>
<rect x="517.26" y="241.46" width="3.13" height="3.13" fill="#003aff"/>
<rect x="520.34" y="241.46" width="9.29" height="3.13" fill="#0048ff"/>
<rect x="541.9" y="241.46" width="6.21" height="3.13" fill="#01e7f6"/>
<rect x="498.78" y="244.54" width="3.13" height="3.13" fill="#0048ff"/>
<rect x="501.86" y="244.54" width="3.13" height="3.13" fill="#003aff"/>
<rect x="504.94" y="244.54" width="9.29" height="3.13" fill="#001fff"/>
<rect x="514.18" y="244.54" width="3.13" height="3.13" fill="#002dff"/>
<rect x="517.26" y="244.54" width="3.13" height="3.13" fill="#003aff"/>
<rect x="520.34" y="244.54" width="9.29" height="3.13" fill="#0048ff"/>
<rect x="544.98" y="244.54" width="3.13" height="3.13" fill="#01e7f6"/>
<rect x="498.78" y="247.62" width="3.13" height="3.13" fill="#0055ff"/>
<rect x="501.86" y="247.62" width="3.13" height="3.13" fill="#0048ff"/>
<rect x="504.94" y="247.62" width="3.13" height="3.13" fill="#002dff"/>
<rect x="508.02" y="247.62" width="6.21" height="3.13" fill="#001fff"/>
<rect x="514.18" y="247.62" width="3.13" height="3.13" fill="#002dff"/>
<rect x="517.26" y="247.62" width="3.13" height="3.13" fill="#003aff"/>
<rect x="520.34" y="247.62" width="9.29" height="3.13" fill="#0048ff"/>
<rect x="563.46" y="247.62" width="6.21" height="3.13" fill="#00defd"/>
<rect x="495.7" y="250.7" width="9.29" height="3.13" fill="#0055ff"/>
<rect x="504.94" y="250.7" width="3.13" height="3.13" fill="#003aff"/>
<rect x="508.02" y="250.7" width="9.29" height="3.13" fill="#002dff"/>
<rect x="517.26" y="250.7" width="6.21" height="3.13" fill="#003aff"/>
<rect x="523.42" y="250.7" width="6.21" height="3.13" fill="#0048ff"/>
<rect x="566.54" y="250.7" width="3.13" height="3.13" fill="#00defd"/>
<rect x="504.94" y="253.78" width="3.13" height="3.13" fill="#003aff"/>
<rect x="508.02" y="253.78" width="12.37" height="3.13" fill="#002dff"/>
<rect x="520.34" y="253.78" width="6.21" height="3.13" fill="#003aff"/>
<rect x="526.5" y="253.78" width="6.21" height="3.13" fill="#0048ff"/>
<rect x="566.54" y="253.78" width="3.13" height="3.13" fill="#00defd"/>
<rect x="504.94" y="256.86" width="3.13" height="3.13" fill="#003aff"/>
<rect x="508.02" y="256.86" width="12.37" height="3.13" fill="#002dff"/>
<rect x="520.34" y="256.86" width="9.29" height="3.13" fill="#003aff"/>
<rect x="566.54" y="256.86" width="3.13" height="3.13" fill="#00defd"/>
<rect x="504.94" y="259.94" width="3.13" height="3.13" fill="#003aff"/>
<rect x="508.02" y="259.94" width="15.45" height="3.13" fill="#002dff"/>
<rect x="523.42" y="259.94" width="6.21" height="3.13" fill="#003aff"/>
<rect x="566.54" y="259.94" width="3.13" height="3.13" fill="#00defd"/>
<rect x="504.94" y="263.02" width="3.13" height="3.13" fill="#003aff"/>
<rect x="508.02" y="263.02" width="15.45" height="3.13" fill="#002dff"/>
<rect x="548.06" y="263.02" width="3.13" height="3.13" fill="#00defd"/>
<rect x="498.78" y="266.1" width="6.21" height="3.13" fill="#003aff"/>
<rect x="585.02" y="266.1" width="3.13" height="3.13" fill="#00defd"/>
<rect x="597.34" y="266.1" width="3.13" height="3.13" fill="#00defd"/>
<rect x="498.78" y="269.18" width="3.13" height="3.13" fill="#003aff"/>
<rect x="585.02" y="269.18" width="3.13" height="3.13" fill="#00defd"/>
<rect x="594.26" y="269.18" width="3.13" height="3.13" fill="#00defd"/>
<rect x="551.14" y="272.26" width="3.13" height="3.13" fill="#00defd"/>
<rect x="526.5" y="275.34" width="3.13" height="3.13" fill="#003eff"/>
<rect x="517.26" y="278.42" width="3.13" height="3.13" fill="#0000e3"/>
<rect x="588.1" y="278.42" width="3.13" height="3.13" fill="#003eff"/>
<rect x="517.26" y="281.5" width="6.21" height="3.13" fill="#0000e3"/>
<rect x="588.1" y="281.5" width="6.21" height="3.13" fill="#003eff"/>
<rect x="523.42" y="284.58" width="3.13" height="3.13" fill="#0000e3"/>
<rect x="554.22" y="284.58" width="3.13" height="3.13" fill="#0035ff"/>
<rect x="578.86" y="284.58" width="3.13" height="3.13" fill="#0035ff"/>
<rect x="588.1" y="284.58" width="3.13" height="3.13" fill="#003eff"/>
<rect x="612.74" y="284.58" width="3.13" height="3.13" fill="#00d6ff"/>
<rect x="541.9" y="287.66" width="6.21" height="3.13" fill="#00bcff"/>
<rect x="554.22" y="287.66" width="3.13" height="3.13" fill="#0035ff"/>
<rect x="572.7" y="287.66" width="3.13" height="3.13" fill="#001fff"/>
<rect x="575.78" y="287.66" width="3.13" height="3.13" fill="#002dff"/>
<rect x="612.74" y="287.66" width="3.13" height="3.13" fill="#00d6ff"/>
<rect x="532.66" y="290.74" width="3.13" height="3.13" fill="#00d6ff"/>
<rect x="541.9" y="290.74" width="6.21" height="3.13" fill="#00bcff"/>
<rect x="569.62" y="290.74" width="6.21" height="3.13" fill="#001fff"/>
<rect x="575.78" y="290.74" width="9.29" height="3.13" fill="#002dff"/>
<rect x="544.98" y="293.82" width="6.21" height="3.13" fill="#00bcff"/>
<rect x="569.62" y="293.82" width="9.29" height="3.13" fill="#002dff"/>
<rect x="578.86" y="293.82" width="3.13" height="3.13" fill="#003aff"/>
<rect x="581.94" y="293.82" width="3.13" height="3.13" fill="#002dff"/>
<rect x="544.98" y="296.9" width="6.21" height="3.13" fill="#00bcff"/>
<rect x="572.7" y="296.9" width="3.13" height="3.13" fill="#003aff"/>
<rect x="575.78" y="296.9" width="3.13" height="3.13" fill="#0048ff"/>
<rect x="578.86" y="296.9" width="3.13" height="3.13" fill="#0055ff"/>
<rect x="581.94" y="296.9" width="3.13" height="3.13" fill="#0048ff"/>
<rect x="585.02" y="296.9" width="3.13" height="3.13" fill="#003aff"/>
<rect x="572.7" y="299.98" width="3.13" height="3.13" fill="#003aff"/>
<rect x="575.78" y="299.98" width="3.13" height="3.13" fill="#0055ff"/>
<rect x="578.86" y="299.98" width="3.13" height="3.13" fill="#0063ff"/>
<rect x="581.94" y="299.98" width="3.13" height="3.13" fill="#0055ff"/>
<rect x="585.02" y="299.98" width="3.13" height="3.13" fill="#002dff"/>
<rect x="572.7" y="303.06" width="3.13" height="3.13" fill="#002dff"/>
<rect x="575.78" y="303.06" width="3.13" height="3.13" fill="#003aff"/>
<rect x="578.86" y="303.06" width="3.13" height="3.13" fill="#0055ff"/>
<rect x="581.94" y="303.06" width="3.13" height="3.13" fill="#003aff"/>
<rect x="585.02" y="303.06" width="3.13" height="3.13" fill="#002dff"/>
<rect x="572.7" y="306.14" width="15.45" height="3.13" fill="#002dff"/>
<rect x="615.82" y="306.14" width="6.21" height="3.13" fill="#0000cc"/>
<rect x="569.62" y="309.22" width="9.29" height="3.13" fill="#002dff"/>
<rect x="578.86" y="309.22" width="3.13" height="3.13" fill="#001fff"/>
<rect x="581.94" y="309.22" width="9.29" height="3.13" fill="#002dff"/>
<rect x="615.82" y="309.22" width="6.21" height="3.13" fill="#0000cc"/>
</g>
<g fill="none" stroke="#7d0a96" stroke-width="2.7" stroke-dasharray="8 4" clip-path="url(#cr)">
<path d="M460.6 76.4C462.5 75.0 465.9 72.5 467.9 71.5C469.9 70.5 470.1 70.8 472.4 70.6C474.7 70.4 479.8 69.7 481.7 70.5C483.6 71.3 482.8 73.6 484.0 75.3C485.2 77.0 487.7 79.1 488.9 80.8C490.1 82.5 490.4 84.2 491.4 85.7C492.4 87.2 493.9 88.4 494.8 89.8C495.7 91.2 496.0 92.6 497.0 94.0C498.0 95.4 499.4 96.9 501.0 98.0C502.6 99.1 505.7 99.3 506.5 100.6C507.3 101.8 507.1 103.7 506.0 105.5C504.9 107.3 502.2 110.0 500.0 111.3C497.8 112.6 494.9 111.5 493.0 113.2C491.1 114.9 489.8 118.5 488.4 121.3C487.0 124.1 485.6 127.2 484.9 129.8C484.2 132.4 484.6 134.3 484.2 136.9C483.8 139.5 483.6 143.5 482.7 145.4C481.8 147.3 479.9 148.3 478.5 148.2C477.1 148.1 476.0 145.8 474.2 144.7C472.4 143.6 469.8 143.7 467.9 141.9C466.0 140.1 463.8 137.0 462.9 134.1C461.9 131.2 462.0 127.4 462.2 124.2C462.4 121.0 463.0 117.5 463.8 115.0C464.6 112.5 466.2 110.9 466.8 109.5C467.4 108.1 467.8 107.9 467.5 106.7C467.2 105.5 466.0 103.3 464.8 102.2C463.6 101.1 461.6 101.8 460.3 100.2C459.0 98.6 457.8 94.7 456.8 92.6C455.8 90.5 454.1 89.5 454.1 87.4C454.1 85.3 455.7 81.6 456.8 79.8C457.9 78.0 458.8 77.8 460.6 76.4z"/>
<path d="M458.9 85.3C459.5 83.3 462.8 80.6 464.4 79.1C465.9 77.6 466.9 77.2 468.2 76.4C469.5 75.7 470.9 74.5 472.4 74.6C473.8 74.7 475.8 75.9 476.9 77.0C478.0 78.1 478.5 79.9 479.3 81.2C480.1 82.5 480.7 84.0 481.7 85.0C482.7 86.0 484.5 86.1 485.5 87.3C486.5 88.5 487.3 90.0 487.6 92.2C487.9 94.4 487.7 98.3 487.2 100.2C486.7 102.1 485.5 102.5 484.5 103.6C483.5 104.7 482.6 106.2 481.0 106.7C479.4 107.2 476.6 107.2 475.0 106.5C473.4 105.8 472.5 103.6 471.7 102.6C470.9 101.5 471.2 101.1 470.3 100.2C469.4 99.3 467.8 99.0 466.2 97.4C464.6 95.8 462.2 92.8 461.0 90.8C459.8 88.8 458.3 87.2 458.9 85.3z"/>
<path d="M468.6 86.3C469.3 85.6 470.7 84.7 472.0 85.0C473.3 85.3 474.8 86.9 476.2 88.1C477.6 89.2 479.5 90.0 480.3 91.9C481.1 93.8 481.2 98.0 481.0 99.5C480.8 101.0 480.1 101.1 479.3 100.8C478.6 100.5 478.1 98.8 476.5 97.4C474.9 96.0 471.1 93.6 469.6 92.2C468.1 90.8 467.8 90.0 467.6 89.0C467.4 88.0 467.9 87.0 468.6 86.3z"/>
<path d="M477.5 121.5C476.7 121.8 473.5 121.9 472.5 123.0C471.5 124.1 471.2 126.4 471.5 128.0C471.8 129.6 472.9 132.0 474.0 132.5C475.1 133.0 477.1 132.2 478.0 131.0C478.9 129.8 479.2 126.4 479.5 125.5"/>
<path d="M453.2 162.2C453.5 160.7 454.5 159.3 455.9 158.4C457.3 157.5 459.9 157.3 461.4 156.7C462.8 156.0 463.4 154.6 464.6 154.5C465.8 154.4 467.4 155.2 468.4 156.2C469.4 157.2 469.6 159.1 470.6 160.5C471.6 161.9 473.8 163.1 474.4 164.4C474.9 165.7 474.3 166.9 473.9 168.2C473.4 169.5 471.9 170.5 471.7 172.0C471.5 173.5 472.5 175.7 472.8 177.4C473.1 179.1 473.7 181.6 473.4 182.3C473.1 183.0 472.4 182.2 471.2 181.8C470.0 181.5 467.9 181.0 466.3 180.2C464.7 179.4 462.9 177.7 461.4 176.9C459.8 176.1 458.1 176.0 457.0 175.3C455.9 174.6 455.2 173.8 454.8 172.5C454.4 171.2 454.6 169.3 454.3 167.6C454.0 165.9 452.9 163.7 453.2 162.2z"/>
</g>
<g fill="none" stroke="#960c8a" stroke-width="2.7" stroke-dasharray="8 4" clip-path="url(#cr)">
<path d="M506.3 215.4C504.0 215.4 500.0 218.0 498.1 220.3C496.2 222.6 495.2 226.3 494.8 229.3C494.4 232.3 494.7 236.0 495.6 238.3C496.6 240.6 499.4 241.4 500.5 243.2C501.6 245.0 501.2 246.9 502.2 248.9C503.2 250.9 505.2 253.5 506.3 255.4C507.4 257.3 507.4 258.8 508.7 260.3C510.0 261.8 512.6 264.2 514.4 264.4C516.2 264.5 518.1 262.7 519.3 261.2C520.5 259.7 520.6 257.3 521.8 255.4C523.0 253.5 525.8 251.7 526.7 249.7C527.7 247.7 527.9 245.5 527.5 243.2C527.1 240.9 525.8 238.4 524.3 235.8C522.8 233.2 520.5 230.2 518.5 227.6C516.5 225.0 514.0 222.3 512.0 220.3C510.0 218.3 508.6 215.4 506.3 215.4z"/>
<path d="M500.5 220.3C499.4 221.5 499.6 225.8 499.7 228.4C499.8 231.0 500.3 233.9 501.4 235.8C502.5 237.7 504.5 238.1 506.3 239.9C508.1 241.7 510.4 245.2 512.0 246.4C513.6 247.6 514.9 247.8 516.1 247.3C517.3 246.8 519.0 244.9 519.3 243.2C519.6 241.5 518.5 239.0 517.7 237.0C516.9 235.0 515.5 233.0 514.4 231.0C513.3 229.0 512.5 226.7 511.2 225.0C509.9 223.3 508.1 221.8 506.3 221.0C504.5 220.2 501.6 219.1 500.5 220.3z"/>
</g>
<path d="M471.9 101h4.2v4.4h4.4v4.2h-4.4v4.4h-4.2v-4.4h-4.4v-4.2h4.4z" fill="#fff"/><path d="M481.3 203h4.2v4.4h4.4v4.2h-4.4v4.4h-4.2v-4.4h-4.4v-4.2h4.4z" fill="#fff"/>
<text x="432.4" y="112" class="lab">N</text>
<text x="432.3" y="216.6" class="lab">S</text>
<text x="340" y="270.3" class="ann sc">CO (2-1)</text>
<ellipse cx="346.1" cy="289.7" rx="8.1" ry="9.7" fill="url(#hatch)" stroke="#fff" stroke-width="1.9" transform="rotate(8 346.1 289.7)"/>
<rect x="535.2" y="287.9" width="77" height="2" fill="#fff"/>
<text x="520.4" y="303.2" class="ann sc">0.25" or 177 pc</text>
<!-- colorbars -->
<rect x="4.6" y="314.8" width="308.4" height="9.5" fill="url(#jet)"/>
<rect x="324.8" y="314.8" width="308" height="9.5" fill="url(#jet)"/>
<path d="M44.83 312.6v2.2M44.83 324.3v2.2" stroke="#222" stroke-width="0.9" fill="none"/>
<text x="44.83" y="338" class="tk" text-anchor="middle"><tspan letter-spacing="1.7">−</tspan>100</text>
<path d="M101.82 312.6v2.2M101.82 324.3v2.2" stroke="#222" stroke-width="0.9" fill="none"/>
<text x="101.82" y="338" class="tk" text-anchor="middle"><tspan letter-spacing="1.7">−</tspan>50</text>
<path d="M158.8 312.6v2.2M158.8 324.3v2.2" stroke="#222" stroke-width="0.9" fill="none"/>
<text x="158.8" y="338" class="tk" text-anchor="middle">0</text>
<path d="M215.78 312.6v2.2M215.78 324.3v2.2" stroke="#222" stroke-width="0.9" fill="none"/>
<text x="215.78" y="338" class="tk" text-anchor="middle">50</text>
<path d="M272.77 312.6v2.2M272.77 324.3v2.2" stroke="#222" stroke-width="0.9" fill="none"/>
<text x="272.77" y="338" class="tk" text-anchor="middle">100</text>
<path d="M376.81 312.6v2.2M376.81 324.3v2.2" stroke="#222" stroke-width="0.9" fill="none"/>
<text x="376.81" y="338" class="tk" text-anchor="middle"><tspan letter-spacing="1.7">−</tspan>200</text>
<path d="M427.81 312.6v2.2M427.81 324.3v2.2" stroke="#222" stroke-width="0.9" fill="none"/>
<text x="427.81" y="338" class="tk" text-anchor="middle"><tspan letter-spacing="1.7">−</tspan>100</text>
<path d="M478.8 312.6v2.2M478.8 324.3v2.2" stroke="#222" stroke-width="0.9" fill="none"/>
<text x="478.8" y="338" class="tk" text-anchor="middle">0</text>
<path d="M529.79 312.6v2.2M529.79 324.3v2.2" stroke="#222" stroke-width="0.9" fill="none"/>
<text x="529.79" y="338" class="tk" text-anchor="middle">100</text>
<path d="M580.79 312.6v2.2M580.79 324.3v2.2" stroke="#222" stroke-width="0.9" fill="none"/>
<text x="580.79" y="338" class="tk" text-anchor="middle">200</text>
<text x="158.9" y="357.6" class="ax" text-anchor="middle">Velocity [km s<tspan class="sup" dx="1.6" dy="-6.2">−1</tspan><tspan dx="1.6" dy="6.2">]</tspan></text>
<text x="479.2" y="357.6" class="ax" text-anchor="middle">Velocity [km s<tspan class="sup" dx="1.6" dy="-6.2">−1</tspan><tspan dx="1.6" dy="6.2">]</tspan></text>
</svg>
</body>
</html>
